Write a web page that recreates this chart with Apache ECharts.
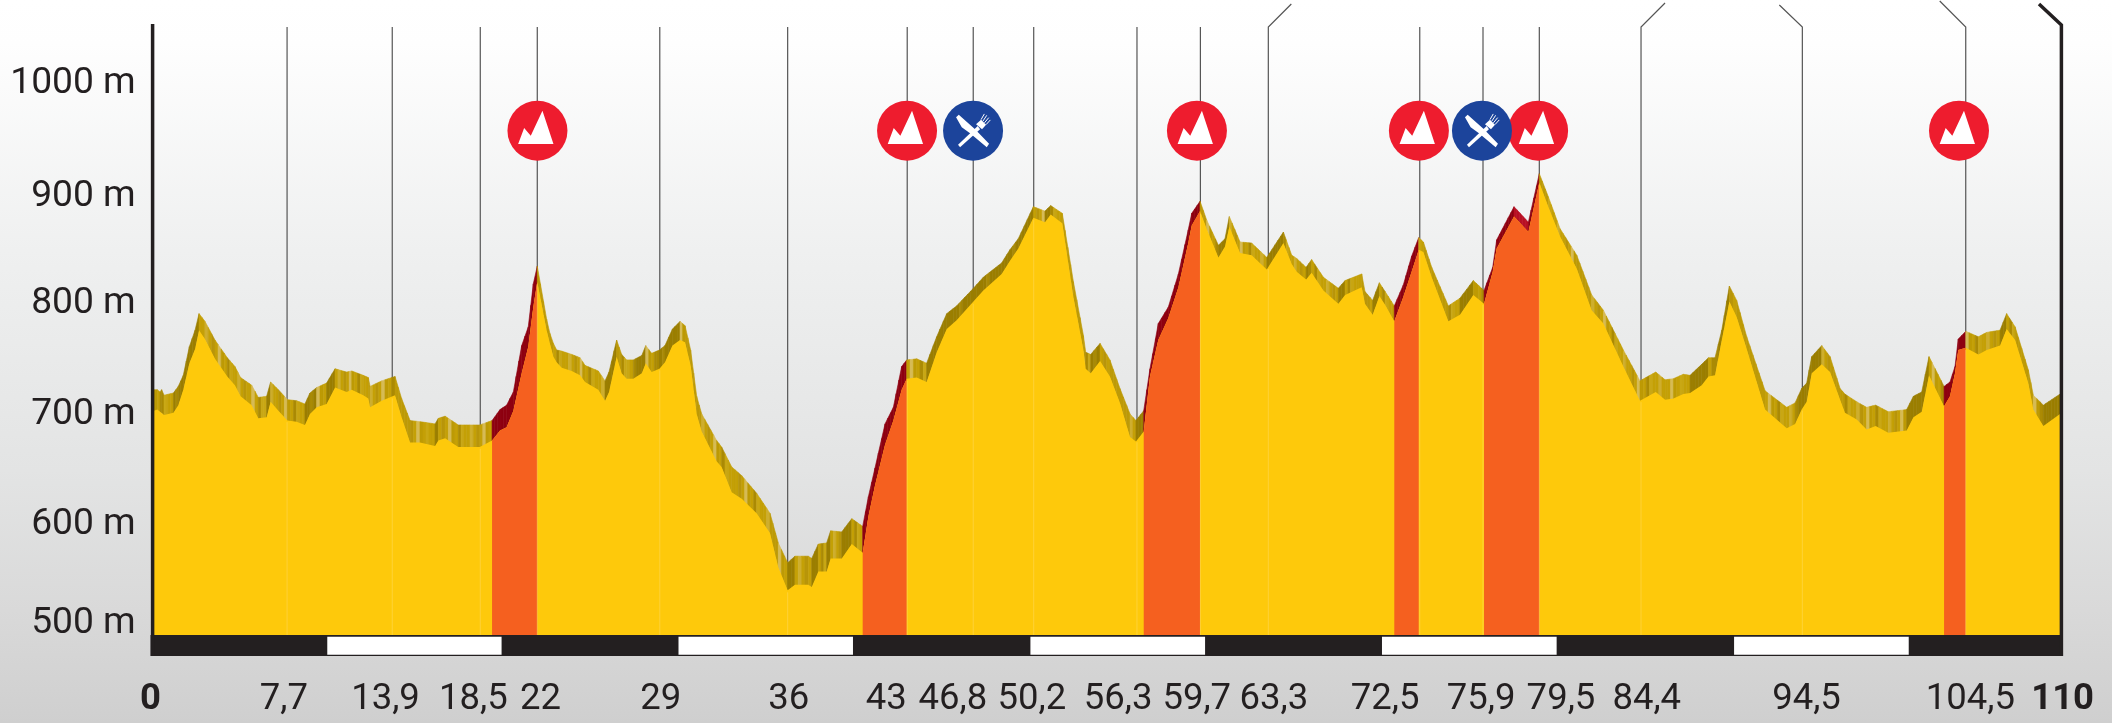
<!DOCTYPE html>
<html><head><meta charset="utf-8">
<style>html,body{margin:0;padding:0;background:#fff}#c{width:2112px;height:723px}</style>
<script src="https://cdn.jsdelivr.net/npm/echarts@6/dist/echarts.min.js"></script>
</head><body><div id="c"></div>
<script>
// ---- data (km along the stage, metres of elevation) ----
const km = [0,0.19,0.35,0.44,0.58,1.12,1.40,1.69,2.04,2.37,2.60,2.94,3.52,4.23,4.67,5.00,5.64,6.02,6.50,6.73,7.18,7.70,8.23,8.71,9.00,9.39,9.96,10.45,11.12,11.41,12.08,12.37,12.47,13.14,13.91,14.29,14.78,15.35,16.22,16.41,16.80,17.56,18.05,18.80,19.51,19.97,20.35,20.74,21.22,21.60,21.89,22.12,
22.66,22.85,23.05,23.24,23.53,24.11,24.59,24.88,25.64,26.03,26.26,26.70,26.99,27.28,27.66,28.15,28.38,28.72,29.17,29.49,29.92,30.36,30.65,30.97,31.32,31.61,32.47,32.76,33.34,33.92,34.78,35.55,36.03,36.57,36.99,37.76,37.96,38.34,38.82,39.05,39.69,40.27,40.90,41.23,41.61,42.19,42.67,43.15,43.44,
44.02,44.59,45.17,45.75,46.32,47.29,47.86,48.92,49.40,49.88,50.75,51.42,51.75,52.42,53.06,53.64,53.77,54.06,54.60,55.17,55.75,56.33,56.67,57.12,57.48,57.96,58.54,59.12,59.69,59.89,60.37,60.75,61.43,61.81,62.06,62.68,63.35,64.22,65.18,65.66,
65.95,66.49,66.81,67.49,68.35,68.74,69.70,69.89,70.33,70.72,71.05,71.58,72.10,72.58,72.99,73.26,73.74,74.70,75.37,76.14,76.76,77.26,77.49,78.49,79.32,79.95,80.47,81.15,82.11,82.97,83.65,84.80,85.76,86.67,87.21,87.69,
88.26,88.65,89.32,89.71,90.09,90.48,90.92,91.34,91.92,92.98,94.23,94.71,95.09,95.38,95.67,96.25,96.73,97.31,97.59,98.27,98.84,99.36,100.09,101.15,101.54,102.02,102.44,103.31,103.65,103.94,104.13,104.56,105.29,105.77,106.54,106.92,107.41,108.17,108.46,109.04,110];
const frontElevation = [701,702,700,700,697,699,706,720,744,757,774,766,748,732,724,714,706,694,695,709,701,692,691,688,698,704,707,722,718,720,715,712,704,710,715,695,672,672,669,674,676,668,668,668,674,683,686,701,735,759,795,818,
774,762,750,745,740,737,733,727,720,710,718,750,735,730,730,735,744,736,739,745,760,765,763,742,698,682,655,650,627,621,608,590,559,538,543,543,541,555,555,567,567,580,572,605,633,670,692,720,730,
731,727,754,775,783,800,810,825,837,848,876,872,879,871,804,756,739,735,746,732,708,677,673,682,732,765,785,813,853,869,882,866,840,850,868,844,842,829,853,834,
827,820,826,810,798,806,813,798,788,805,797,782,804,827,847,845,822,782,788,806,798,827,848,877,863,908,886,859,830,792,780,741,710,718,711,712,
716,717,724,732,733,765,800,786,757,702,685,689,702,709,735,743,736,711,699,693,684,687,681,683,695,700,733,705,714,735,756,758,752,756,760,775,765,726,702,687,698];
const backElevation = [720,720,718,720,715,717,723,733,759,774,789,782,765,749,741,731,724,713,714,727,720,711,710,707,717,722,726,739,736,737,733,731,723,728,732,712,692,691,689,694,696,688,688,688,692,702,706,718,760,777,816,832,
784,771,762,756,755,752,749,742,737,728,736,765,752,747,747,751,760,753,756,760,775,782,778,756,714,698,674,668,650,642,626,608,581,563,569,569,567,580,581,592,591,603,596,623,649,689,704,741,747,
748,744,768,789,796,812,822,835,847,857,886,882,887,880,818,769,754,752,762,747,721,698,692,701,739,780,795,825,865,880,891,874,851,857,877,854,853,840,863,842,
839,831,838,822,812,819,825,809,801,817,809,796,815,841,858,854,831,796,803,819,810,831,856,886,872,916,895,866,842,806,792,756,728,736,729,730,
734,733,743,749,749,774,814,801,768,719,704,708,721,726,750,760,750,721,716,709,704,706,700,702,714,718,750,723,727,741,766,773,768,772,774,789,777,738,715,706,716];
// climbs drawn in orange: [start km, end km]
const climbs = [[19.51,22.12],[40.90,43.44],[57.12,60.37],[71.58,72.99],[76.76,79.95],[103.31,104.56]];
// km-marker leader lines as they sit on the drawing
const markerKm = [7.68,13.75,18.83,22.12,29.19,36.57,43.47,47.28,50.77,56.73,60.39,64.31,73.05,76.70,79.95,85.82,95.13,104.56];
const xTickLabels = ['0','7,7','13,9','18,5','22','29','36','43','46,8','50,2','56,3','59,7','63,3','72,5','75,9','79,5','84,4','94,5','104,5','110'];
const xTickLabelKm = [-0.21,7.50,13.36,18.43,22.31,29.25,36.64,42.26,46.10,50.66,55.64,60.18,64.63,71.05,76.59,81.20,86.15,95.37,104.83,110.15];
const yTicks = [1000,900,800,700,600,500];
const climbIconKm = [22.13,43.46,60.19,73.0,79.88,104.17];
const foodIconKm = [47.27,76.64];
const iconLevel = 955;
const scaleWhite = [[10.0,20.06],[30.27,40.34],[50.58,60.66],[70.87,80.95],[91.19,101.27]];
const axisMinKm = 0, axisMaxKm = 110, axisMinM = 497.5, axisMaxM = 1049;

// ---- styles ----
const FONT = 'Roboto, sans-serif';
const INK = '#231f20';
const YELLOW = '#fec90b', ORANGE = '#f5601f';
const yLabelNudge = {900: 2.6, 500: -10.7};
const leaderKinks = {64.31:[23,-23], 85.82:[24,-24], 95.13:[-23,-22], 104.56:[-26,-26]};
const stripes = ['#c4a006','#c4a006','#ceae2e','#c4a006','#b8950a','#c4a006','#d6bb55','#bd9a04','#c4a006','#ab8a04','#c9a714'];
const inClimb = k => climbs.some(c => k >= c[0] && k <= c[1]);

function bandColor(i, slope, mid, sliceIdx) {
  if (inClimb(mid)) return slope < -5 ? '#b81024' : '#8e0010';
  if (slope > 9) return sliceIdx % 9 === 4 ? '#a98a06' : '#9b7e00';
  if (slope < -40) return '#bd9a07';
  return stripes[sliceIdx % stripes.length];
}

const rows = km.slice(0, -1).map((k, i) => [k, frontElevation[i], backElevation[i], km[i+1], frontElevation[i+1], backElevation[i+1]]);

const bandSeries = {
  type: 'custom', silent: true, z: 3, clip: false, data: rows,
  encode: {x: 0, y: 1},
  renderItem(p, api) {
    const a = [api.value(0), api.value(1), api.value(2)], b = [api.value(3), api.value(4), api.value(5)];
    const f0 = api.coord([a[0], a[1]]), b0 = api.coord([a[0], a[2]]), f1 = api.coord([b[0], b[1]]), b1 = api.coord([b[0], b[2]]);
    const w = f1[0] - f0[0], n = Math.max(1, Math.round(w / 3)), slope = (b[1] - a[1]) / (b[0] - a[0]);
    const children = [];
    for (let s = 0; s < n; s++) {
      const t0 = s / n, t1 = (s + 1) / n, x0 = f0[0] + w * t0, x1 = f0[0] + w * t1;
      const mid = a[0] + (b[0] - a[0]) * (s + .5) / n;
      const col = bandColor(p.dataIndex, slope, mid, Math.floor(x0 / 3));
      children.push({type: 'polygon', shape: {points: [
        [x0, b0[1] + (b1[1] - b0[1]) * t0], [x1, b0[1] + (b1[1] - b0[1]) * t1],
        [x1, f0[1] + (f1[1] - f0[1]) * t1 + 1], [x0, f0[1] + (f1[1] - f0[1]) * t0 + 1]]},
        style: {fill: col, stroke: col, lineWidth: .6}});
    }
    return {type: 'group', children};
  }
};

const areaBase = {type: 'line', silent: true, showSymbol: false, symbol: 'none', lineStyle: {width: 0}, animation: false};
const pts = km.map((k, i) => [k, frontElevation[i]]);
const frontSeries = Object.assign({}, areaBase, {data: pts, z: 4, areaStyle: {color: YELLOW, opacity: 1, origin: 'start'}});
const climbSeries = climbs.map(c => Object.assign({}, areaBase, {
  data: pts.filter(p => p[0] >= c[0] && p[0] <= c[1]), z: 5, areaStyle: {color: ORANGE, opacity: 1, origin: 'start'}}));

const leaderSeries = {
  type: 'custom', silent: true, z: 2, clip: false, data: markerKm.map(k => [k, axisMaxM]), encode: {x: 0, y: 1},
  renderItem(p, api) {
    const k = api.value(0), top = api.coord([k, axisMaxM]), bot = api.coord([k, axisMinM]);
    const kink = leaderKinks[k];
    const pts2 = [[top[0], bot[1]], top];
    if (kink) pts2.push([top[0] + kink[0], top[1] + kink[1]]);
    return {type: 'polyline', shape: {points: pts2}, style: {stroke: '#555', lineWidth: 1.2, fill: null}};
  }
};
const glowSeries = {
  type: 'custom', silent: true, z: 6, clip: false, data: markerKm.map((k, i) => [k]), encode: {x: 0},
  renderItem(p, api) {
    const k = api.value(0);
    let i = km.findIndex(v => v >= k); if (i < 1) i = 1;
    const t = (k - km[i-1]) / (km[i] - km[i-1]);
    const lvl = frontElevation[i-1] + (frontElevation[i] - frontElevation[i-1]) * t;
    const a = api.coord([k, lvl]), b = api.coord([k, axisMinM]);
    return {type: 'line', shape: {x1: a[0], y1: a[1] + 2, x2: b[0], y2: b[1]}, style: {stroke: 'rgba(255,222,110,.45)', lineWidth: 1}};
  }
};

const framePx = {bar: 21, axisW: 3.5};
const frameSeries = {
  type: 'custom', silent: true, z: 7, clip: false, data: [[0]], encode: {x: 0},
  renderItem(p, api) {
    const o = api.coord([axisMinKm, axisMinM]), e = api.coord([axisMaxKm, axisMinM]), t = api.coord([axisMinKm, axisMaxM]);
    const children = [
      {type: 'rect', shape: {x: o[0] - 3.5, y: o[1], width: e[0] - o[0] + 6, height: framePx.bar}, style: {fill: INK}},
      {type: 'line', shape: {x1: o[0] - 1.4, y1: t[1] - 3, x2: o[0] - 1.4, y2: o[1] + framePx.bar}, style: {stroke: INK, lineWidth: framePx.axisW}},
      {type: 'polyline', shape: {points: [[e[0] + 1.4, o[1] + framePx.bar], [e[0] + 1.4, t[1] - 2], [e[0] - 21, 4]]}, style: {stroke: INK, lineWidth: framePx.axisW, fill: null}}
    ];
    scaleWhite.forEach(r => {
      const a = api.coord([r[0], axisMinM]), b = api.coord([r[1], axisMinM]);
      children.push({type: 'rect', shape: {x: a[0], y: a[1] + 1.7, width: b[0] - a[0], height: 18}, style: {fill: '#fff'}});
    });
    return {type: 'group', children};
  }
};

const mountain = [[-19.3,13.3],[-13.3,-2.7],[-6.7,5],[5,-20],[16,13.3]];
const knife = [[-17,-13.3],[-14.3,-16],[2,-1.3],[16,13],[13.7,16.7],[-3,2.7],[-11.3,-3.3]];
const forkHandle = [[-15,14],[-13,16.7],[7,-1.3],[4.7,-4.7]];
const forkHead = [[3,-6.5],[8,-11],[13,-6],[9,-1.5]];
const tines = [[[8,-11],[11.3,-16.7]],[[9.8,-9.4],[13.7,-15.3]],[[11.4,-7.8],[15.7,-13]],[[13,-6],[17.3,-10.7]]];
function iconSeries(list, kind) {
  return {
    type: 'custom', silent: true, z: 9, clip: false, data: list.map(k => [k, iconLevel]), encode: {x: 0, y: 1},
    renderItem(p, api) {
      const c = api.coord([api.value(0), api.value(1)]);
      const shift = a => a.map(q => [q[0] + c[0], q[1] + c[1]]);
      const ch = [{type: 'circle', shape: {cx: c[0], cy: c[1], r: 30}, style: {fill: kind === 'climb' ? '#ee1c2e' : '#1c449b'}}];
      if (kind === 'climb') ch.push({type: 'polygon', shape: {points: shift(mountain)}, style: {fill: '#fff'}});
      else {
        ch.push({type: 'polygon', shape: {points: shift(knife)}, style: {fill: '#fff'}});
        ch.push({type: 'polygon', shape: {points: shift(forkHandle)}, style: {fill: '#fff'}});
        ch.push({type: 'polygon', shape: {points: shift(forkHead)}, style: {fill: '#fff'}});
        tines.forEach(t => ch.push({type: 'polyline', shape: {points: shift(t)}, style: {stroke: '#fff', lineWidth: 1, fill: null}}));
      }
      return {type: 'group', children: ch};
    }
  };
}

const xLabelSeries = {
  type: 'custom', silent: true, z: 10, clip: false, data: xTickLabelKm.map((k, i) => [k, i]), encode: {x: 0},
  renderItem(p, api) {
    const i = api.value(1), x = api.coord([api.value(0), axisMinM])[0];
    const bold = i === 0 || i === xTickLabels.length - 1;
    return {type: 'text', style: {text: xTickLabels[i], x, y: 700, textAlign: 'center', textVerticalAlign: 'middle', fill: INK,
      font: (bold ? 'bold ' : '') + '36.5px ' + FONT}};
  }
};
const yLabelSeries = {
  type: 'custom', silent: true, z: 10, clip: false, data: yTicks.map(v => [0, v]), encode: {x: 0, y: 1},
  renderItem(p, api) {
    const v = api.value(1), c = api.coord([0, v]);
    return {type: 'text', style: {text: v + ' m', x: c[0] - 18.3, y: c[1] + 2.5 + (yLabelNudge[v] || 0), textAlign: 'right', textVerticalAlign: 'middle', fill: INK,
      font: '37.2px ' + FONT}};
  }
};

const chart = echarts.init(document.getElementById('c'), null, {renderer: 'canvas', width: 2112, height: 723});
chart.setOption({
  animation: false,
  backgroundColor: {type: 'linear', x: 0, y: 0, x2: 0, y2: 1, colorStops: [
    {offset: 0, color: '#ffffff'}, {offset: .06, color: '#fefefe'}, {offset: .346, color: '#eff0f0'},
    {offset: .65, color: '#e3e4e4'}, {offset: .844, color: '#d9d9d9'}, {offset: 1, color: '#cfcfcf'}]},
  grid: {left: 154, right: 52, top: 27, bottom: 88, containLabel: false},
  xAxis: {type: 'value', min: axisMinKm, max: axisMaxKm, show: false},
  yAxis: {type: 'value', min: axisMinM, max: axisMaxM, show: false, splitLine: {show: false}},
  tooltip: {show: false}, legend: {show: false},
  series: [leaderSeries, bandSeries, frontSeries, ...climbSeries, glowSeries, frameSeries,
    iconSeries(climbIconKm, 'climb'), iconSeries(foodIconKm, 'food'), xLabelSeries, yLabelSeries]
});
</script></body></html>
